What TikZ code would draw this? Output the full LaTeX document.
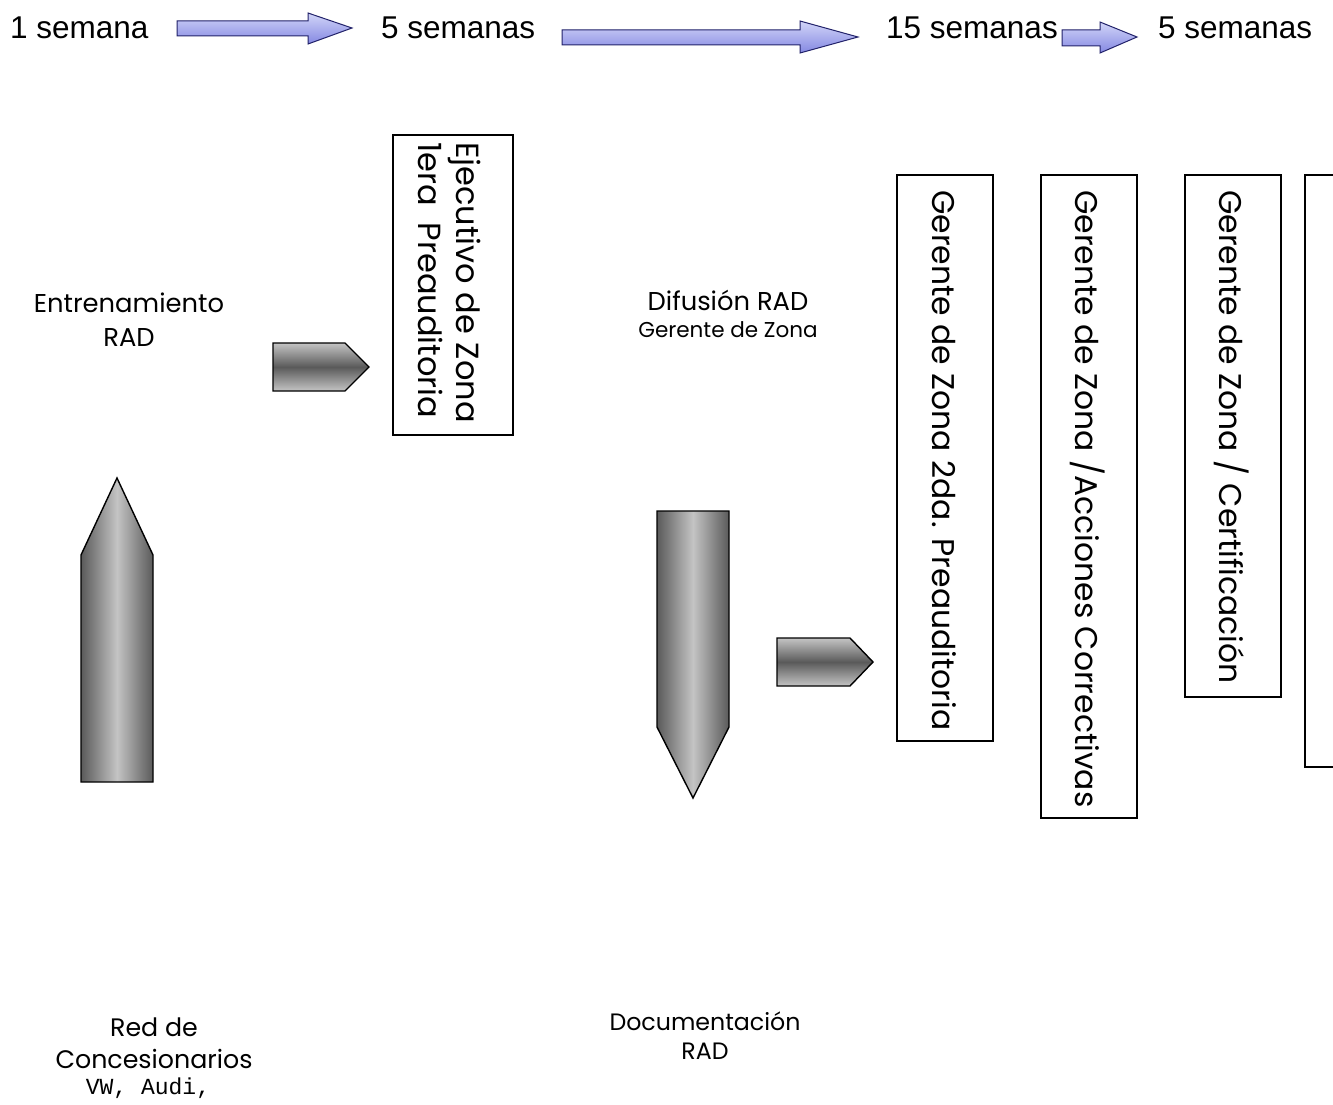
\documentclass[tikz,border=0pt]{standalone}
\usepackage{fontspec}
\setmainfont{Poppins}
\newfontfamily\arialf{Liberation Sans}
\newfontfamily\monof{Liberation Mono}
\definecolor{gdark}{HTML}{5A5A5A}
\definecolor{glight}{HTML}{C4C4C4}
\definecolor{bltop}{HTML}{D2D5F8}
\definecolor{blbot}{HTML}{8488E2}
\definecolor{bledge}{HTML}{22226A}
\tikzset{
  pencil/.style={draw=black, line width=1.4pt, left color=gdark, right color=gdark, middle color=glight},
  harrow/.style={draw=black, line width=1.4pt, top color=glight, bottom color=glight, middle color=gdark},
  barrow/.style={draw=bledge, line width=1pt, top color=bltop, bottom color=blbot},
  wbox/.style={draw=black, line width=1.3pt, fill=white},
  toplab/.style={font=\arialf\fontsize{31.5}{36}\selectfont, inner sep=0pt},
  vlab/.style={rotate=-90, font=\fontsize{31.4}{38}\selectfont, inner sep=0pt},
  lab/.style={font=\fontsize{25.8}{34}\selectfont, align=center, inner sep=0pt}
}
\begin{document}
\begin{tikzpicture}[x=1pt,y=-1pt]
\useasboundingbox (0,0) rectangle (1333,1105);
\clip (0,0) rectangle (1333,1105);
\fill[white] (0,0) rectangle (1333,1105);

% top labels
\node[toplab, anchor=west] (w1) at (10,28) {1 semana};
\node[toplab, anchor=west] (w5a) at (381,28) {5 semanas};
\node[toplab, anchor=west] (w15) at (886,28) {15 semanas};
\node[toplab, anchor=west] (w5b) at (1158,28) {5 semanas};

% blue arrows
\draw[barrow] (177,21) -- (308,21) -- (308,13) -- (352,28) -- (308,44) -- (308,36) -- (177,36) -- cycle;
\draw[barrow] (562,30) -- (800,30) -- (800,21) -- (858,37) -- (800,53) -- (800,45) -- (562,45) -- cycle;
\draw[barrow] (1062,30) -- (1100,30) -- (1100,22) -- (1137,37) -- (1100,53) -- (1100,46) -- (1062,46) -- cycle;

% gray shapes
\draw[harrow] (273,343) -- (345,343) -- (369,367) -- (345,391) -- (273,391) -- cycle;
\draw[pencil] (81,782) -- (81,555) -- (117,478) -- (153,555) -- (153,782) -- cycle;
\draw[pencil] (657,511) -- (729,511) -- (729,727) -- (693,798) -- (657,727) -- cycle;
\draw[harrow] (777,638) -- (850,638) -- (873,662) -- (850,686) -- (777,686) -- cycle;

% boxes
\draw[wbox] (393,135) rectangle (513,435);
\draw[wbox] (897,175) rectangle (993,741);
\draw[wbox] (1041,175) rectangle (1137,818);
\draw[wbox] (1185,175) rectangle (1281,697);
\draw[wbox] (1305,175) rectangle (1345,767);

% vertical texts
\node[vlab, anchor=west, align=left, font=\fontsize{32}{38}\selectfont] (t1) at (450,142) {Ejecutivo de Zona\\1era\ \ Preauditoria};
\node[vlab, anchor=west] (t2) at (944,190) {Gerente de Zona 2da. Preauditoria};
\node[vlab, anchor=west] (t3) at (1088,190) {Gerente de Zona /Acciones Correctivas};
\node[vlab, anchor=west] (t4) at (1232,190) {Gerente de Zona / Certificación};

% labels
\node[lab] (ent) at (129,320) {Entrenamiento\\RAD};
\node[lab] (dif) at (728,300) {Difusión RAD};
\node[lab, font=\fontsize{21.5}{26}\selectfont] (gz) at (728,330) {Gerente de Zona};
\node[lab, font=\fontsize{25.3}{32}\selectfont] (red) at (154,1043) {Red de\\Concesionarios};
\node[lab, font=\monof\fontsize{23}{26}\selectfont] (vw) at (148,1088) {VW, Audi,};
\node[lab, font=\fontsize{23.7}{29}\selectfont] (doc) at (705,1036) {Documentación\\RAD};
\end{tikzpicture}
\end{document}
